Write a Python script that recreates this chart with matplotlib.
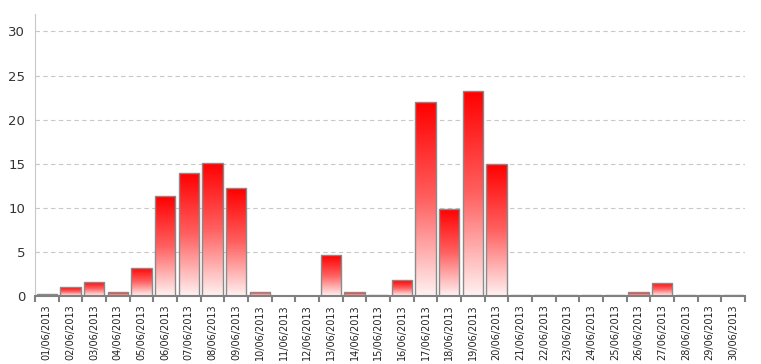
import numpy as np
import matplotlib.pyplot as plt
from matplotlib.colors import LinearSegmentedColormap

# data
dates = ['%02d/06/2013' % d for d in range(1, 31)]
values = [0.2, 1.0, 1.6, 0.4, 3.2, 11.3, 14.0, 15.1, 12.2, 0.5,
          0.0, 0.0, 4.6, 0.4, 0.1, 1.8, 22.0, 9.9, 23.3, 15.0,
          0.05, 0.05, 0.1, 0.05, 0.05, 0.4, 1.5, 0.05, 0.05, 0.05]
yticks = [0, 5, 10, 15, 20, 25, 30]

fig = plt.figure(figsize=(7.61, 3.64), dpi=100)
ax = fig.add_axes([0.046, 0.187, 0.933, 0.775])

x = np.arange(len(values))
bars = ax.bar(x, values, width=0.86, color='none', edgecolor='#8a8a8a', linewidth=1.0, zorder=3)

# rood verloop boven naar wit onder
cmap = LinearSegmentedColormap.from_list('rg', ['#fff0f0', '#ff6060', '#ff0000'])
grad = np.linspace(0, 1, 100).reshape(-1, 1)
for b in bars:
    h = b.get_height()
    if h <= 0:
        continue
    bx = b.get_x()
    w = b.get_width()
    im = ax.imshow(grad, cmap=cmap, aspect='auto', origin='lower',
                   extent=[bx, bx + w, 0, h], zorder=2)
    im.set_clip_path(b)

ax.set_xlim(-0.5, len(values) - 0.5)
ax.set_ylim(0, 32)
ax.set_yticks(yticks)
ax.set_xticks(x)
ax.set_xticklabels(dates, rotation=90, fontsize=7)
ax.set_xticks(np.arange(-0.5, len(values)), minor=True)
ax.tick_params(axis='x', which='major', length=0, pad=6)
ax.tick_params(axis='x', which='minor', length=4, color='#808080', width=1.5)
ax.tick_params(axis='y', length=0, labelsize=9.5, pad=7, colors='#333333')
ax.tick_params(axis='x', labelcolor='#222222')

ax.grid(axis='y', linestyle=(0, (4, 3)), color='#c8c8c8', linewidth=0.8, zorder=0)
for s in ['top', 'right']:
    ax.spines[s].set_visible(False)
ax.spines['left'].set_color('#c8c8c8')
ax.spines['bottom'].set_color('#808080')
ax.spines['bottom'].set_linewidth(1.5)
ax.spines['bottom'].set_zorder(4)

fig.savefig('out.png', dpi=100)
